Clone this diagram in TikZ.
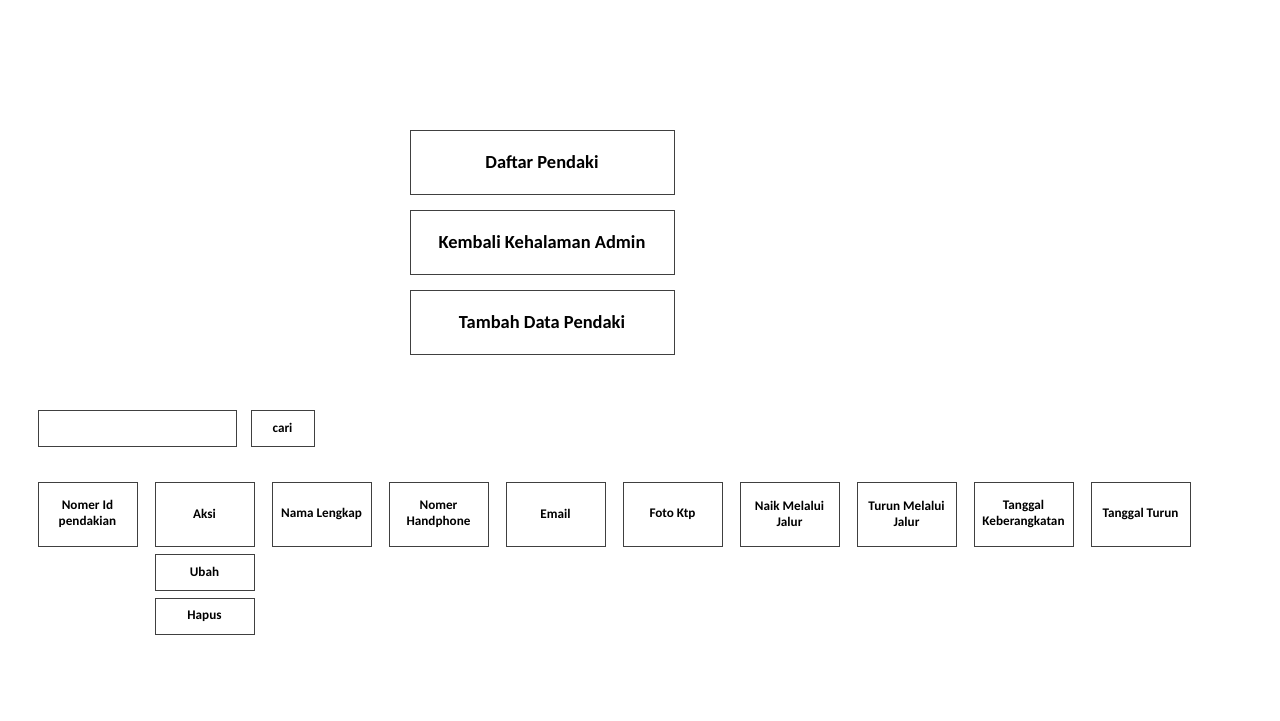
\documentclass[tikz,border=0pt]{standalone}
\usepackage{fontspec}
\setmainfont{Carlito}
\usetikzlibrary{positioning}

\begin{document}
\begin{tikzpicture}[%
    node distance=0.32cm,
    menubox/.style={%
      rectangle,
      draw=black!75,
      line width=0.45pt,
      outer sep=0pt,
      minimum width=5.28cm,
      minimum height=1.28cm,
      font=\fontsize{10.5}{12}\selectfont\bfseries
    },
    colbox/.style={%
      rectangle,
      draw=black!75,
      line width=0.45pt,
      outer sep=0pt,
      minimum width=1.98cm,
      minimum height=1.28cm,
      inner sep=1pt,
      align=center,
      font=\fontsize{7.5}{9}\selectfont\bfseries
    },
    smallbox/.style={%
      colbox,
      minimum height=0.72cm
    }
  ]
    \useasboundingbox (0,0) rectangle (25.6,-14.4);
    \node[menubox] (daftar) at (10.84,-3.24) {Daftar Pendaki};
    \node[menubox] (kembali) [below=of daftar] {Kembali Kehalaman Admin};
    \node[menubox] (tambah) [below=of kembali] {Tambah Data Pendaki};

    \node[smallbox, minimum width=3.96cm] (input) at (2.74,-8.56) {};
    \node[smallbox, minimum width=1.26cm] (cari) [right=0.3cm of input] {cari};

    \node[colbox] (id) at (1.75,-10.28) {Nomer Id\\pendakian};
    \node[colbox] (aksi) [right=0.36cm of id] {Aksi};
    \node[colbox] (nama) [right=0.36cm of aksi] {Nama Lengkap};
    \node[colbox] (hp) [right=0.36cm of nama] {Nomer\\Handphone};
    \node[colbox] (email) [right=0.36cm of hp] {Email};
    \node[colbox] (ktp) [right=0.36cm of email] {Foto Ktp};
    \node[colbox] (naik) [right=0.36cm of ktp] {Naik Melalui\\Jalur};
    \node[colbox] (turun) [right=0.36cm of naik] {Turun Melalui\\Jalur};
    \node[colbox] (berangkat) [right=0.36cm of turun] {Tanggal\\Keberangkatan};
    \node[colbox] (tglturun) [right=0.36cm of berangkat] {Tanggal Turun};

    \node[smallbox] (ubah) [below=0.16cm of aksi] {Ubah};
    \node[smallbox] (hapus) [below=0.16cm of ubah] {Hapus};
\end{tikzpicture}
\end{document}
